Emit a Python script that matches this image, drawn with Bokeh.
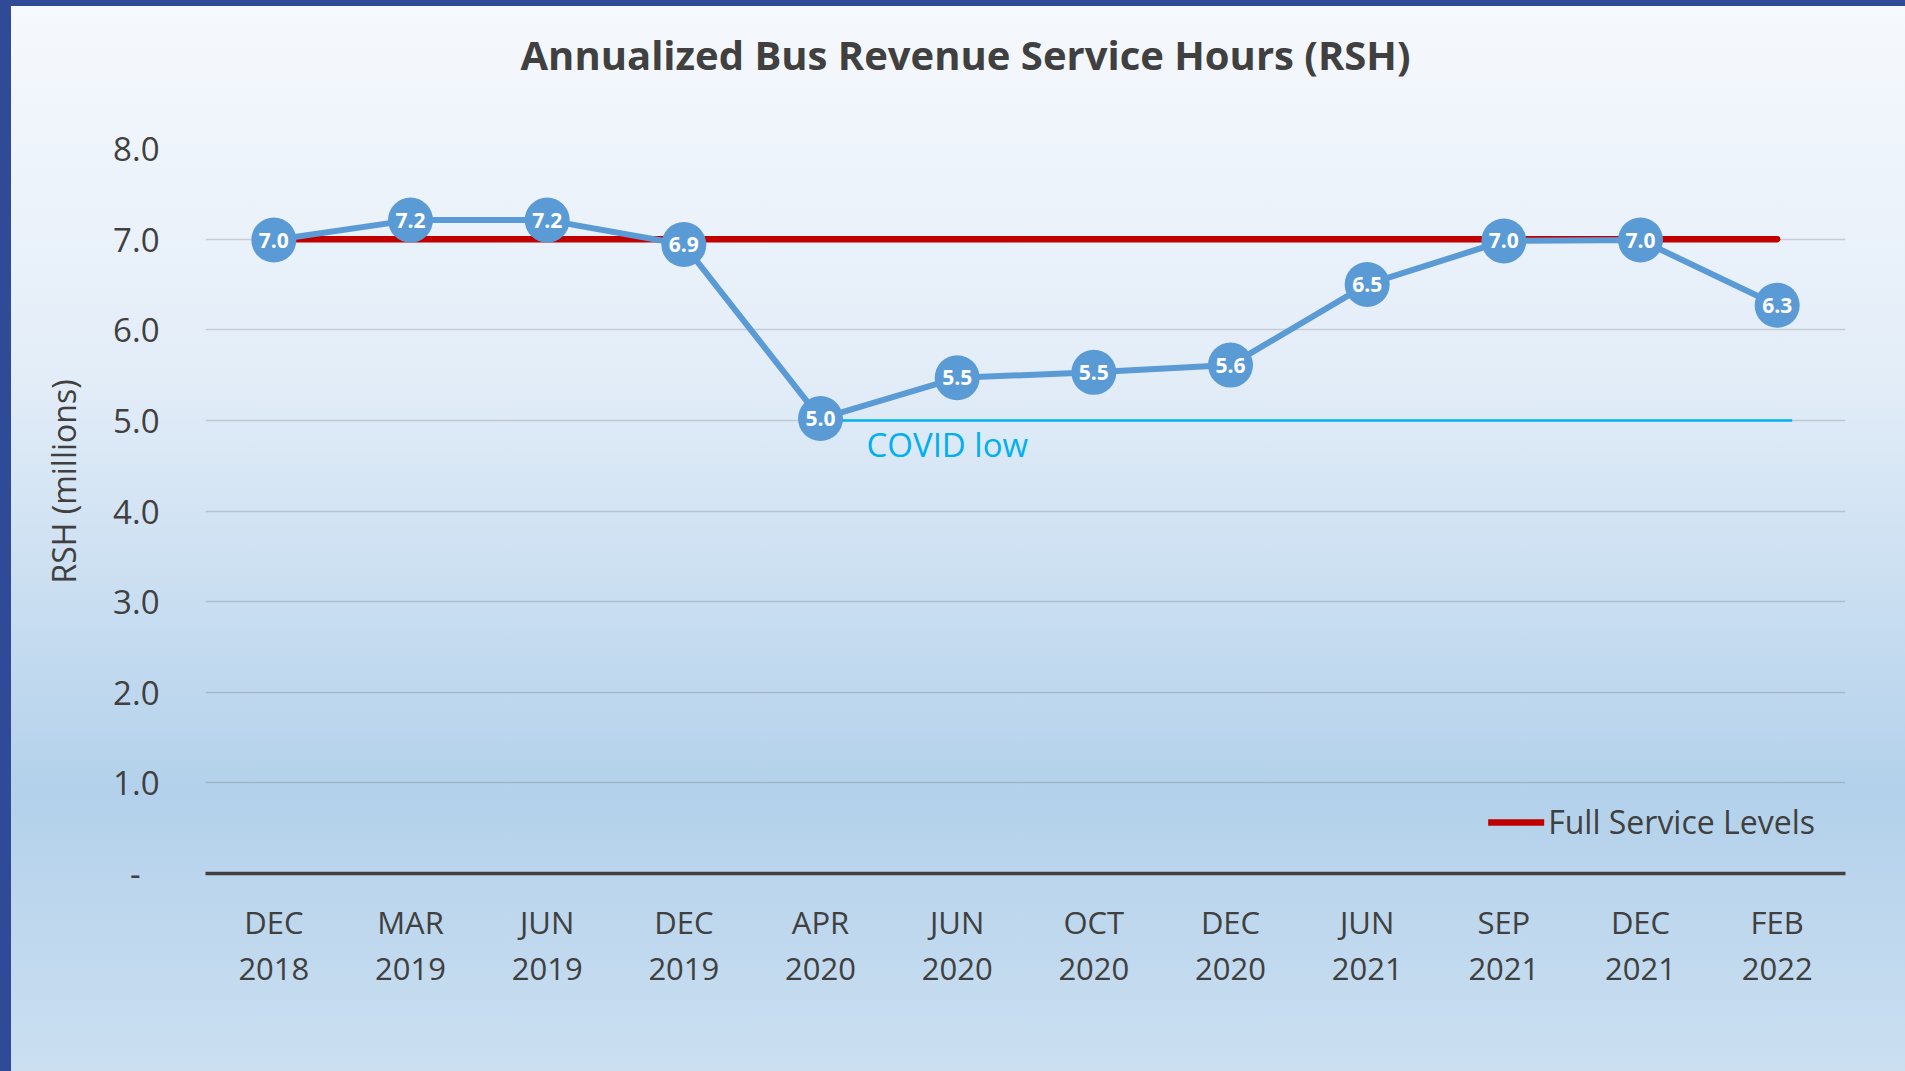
from bokeh.plotting import figure
from bokeh.models import (FactorRange, Range1d, FixedTicker, Legend, LegendItem,
                          ColumnDataSource, NumeralTickFormatter, Title)
from bokeh.core.properties import value
from bokeh.embed import file_html
from bokeh.resources import INLINE

# ---- data ----
MONTHS = ["DEC", "MAR", "JUN", "DEC", "APR", "JUN", "OCT", "DEC", "JUN", "SEP", "DEC", "FEB"]
YEARS = ["2018", "2019", "2019", "2019", "2020", "2020", "2020", "2020", "2021", "2021", "2021", "2022"]
RSH = [6.99, 7.21, 7.21, 6.94, 5.02, 5.47, 5.53, 5.61, 6.50, 6.98, 6.99, 6.27]
FULL_SERVICE = 7.0
COVID_LOW = 5.0
YTICKS = [0, 1, 2, 3, 4, 5, 6, 7, 8]
TITLE = "Annualized Bus Revenue Service Hours (RSH)"
Y_LABEL = "RSH (millions)"
LEGEND_LABEL = "Full Service Levels"
COVID_LABEL = "COVID low"

factors = [f"{m}\n{y}" for m, y in zip(MONTHS, YEARS)]
labels = [f"{v:.1f}" for v in RSH]
low_start = factors[MONTHS.index("APR")]

FONT = "Open Sans"
TXT = "#404040"
BLUE = "#5b9bd5"
RED = "#c00000"
CYAN = "#00b0f0"
W, H = 1905, 1071

p = figure(width=W, height=H,
           x_range=FactorRange(factors=factors, range_padding=0),
           y_range=Range1d(0, 8),
           output_backend="svg", toolbar_location=None,
           min_border_left=205, min_border_right=60,
           min_border_top=148, min_border_bottom=198)

p.styles = {
    "background": ("linear-gradient(to right, #2f4b97 0px, #2f4b97 11px, transparent 11px), "
                   "linear-gradient(to bottom, #2f4b97 0px, #2f4b97 6px, transparent 6px), "
                   "linear-gradient(to bottom, #f6f9fd 0%, #e3edf8 35%, #b3d1eb 74%, #cbdff1 100%)")
}
p.background_fill_alpha = 0
p.border_fill_alpha = 0
p.outline_line_color = None

# title (a trailing empty line keeps it higher above the plot area)
p.title.text = TITLE + "\n"
p.title.align = "left"
p.title.offset = 315
p.title.vertical_align = "top"
p.title.standoff = 20
p.title.text_font = FONT
p.title.text_font_size = "40px"
p.title.text_font_style = "bold"
p.title.text_color = TXT

# axes
p.xaxis.axis_line_color = TXT
p.xaxis.axis_line_width = 3.5
p.xaxis.major_tick_line_color = None
p.xaxis.minor_tick_line_color = None
p.xaxis.major_label_text_font = FONT
p.xaxis.major_label_text_font_size = "31px"
p.xaxis.major_label_text_color = TXT
p.xaxis.major_label_text_line_height = 1.1
p.xaxis.major_label_standoff = 21

p.yaxis.ticker = FixedTicker(ticks=YTICKS)
p.yaxis.formatter = NumeralTickFormatter(format="0.0")
p.yaxis.major_label_overrides = {0: "-\u2007"}
p.yaxis.axis_line_color = None
p.yaxis.major_tick_line_color = None
p.yaxis.minor_tick_line_color = None
p.yaxis.major_label_text_font = FONT
p.yaxis.major_label_text_font_size = "33px"
p.yaxis.major_label_text_color = TXT
p.yaxis.major_label_standoff = 40

# y-axis title placed in the left panel so it can sit off-centre like the original
ytitle = Title(text=Y_LABEL, align="left", offset=290, vertical_align="bottom", standoff=52,
               text_font=FONT, text_font_size="32px", text_font_style="normal", text_color=TXT)
p.add_layout(ytitle, "left")

p.xgrid.grid_line_color = None
p.ygrid.grid_line_color = "#404040"
p.ygrid.grid_line_alpha = 0.2
p.ygrid.grid_line_width = 1.5

# full service level line
full = p.line(x=[factors[0], factors[-1]], y=[FULL_SERVICE, FULL_SERVICE],
              line_color=RED, line_width=6.5, line_cap="round")

# covid low line + label
p.line(x=[(low_start, 0.0), (factors[-1], 0.11)], y=[COVID_LOW, COVID_LOW],
       line_color=CYAN, line_width=2.5)
p.text(x=[low_start], y=[COVID_LOW], text=[COVID_LABEL], x_offset=46, y_offset=24,
       text_font=value(FONT), text_font_size="33px", text_color=CYAN,
       text_align="left", text_baseline="middle")

# series
src = ColumnDataSource(dict(x=factors, y=RSH, lab=labels))
p.line(x="x", y="y", source=src, line_color=BLUE, line_width=6)
p.scatter(x="x", y="y", source=src, size=45, fill_color=BLUE, line_color=None)
p.text(x="x", y="y", text="lab", source=src, text_font=value(FONT), text_font_size="21px",
       text_font_style="bold", text_color="white", text_align="center", text_baseline="middle")

legend = Legend(items=[LegendItem(label=LEGEND_LABEL, renderers=[full])],
                location="bottom_right", background_fill_alpha=0, border_line_color=None,
                label_text_font=FONT, label_text_font_size="32px", label_text_color=TXT,
                glyph_width=56, label_standoff=4, padding=0, margin=30, spacing=0)
p.add_layout(legend)

open("out.html", "w").write(file_html(p, INLINE))
